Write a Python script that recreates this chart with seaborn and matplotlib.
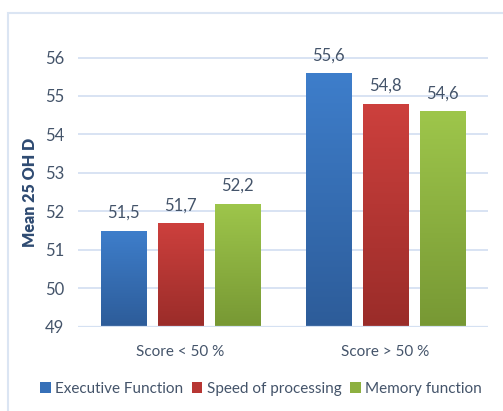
import numpy as np
import pandas as pd
import matplotlib
matplotlib.use("Agg")
import matplotlib.pyplot as plt
from matplotlib.colors import LinearSegmentedColormap
from matplotlib.patches import Rectangle, Patch
import seaborn as sns

# Data
groups = ["Score < 50 %", "Score > 50 %"]
domains = ["Executive Function", "Speed of processing", "Memory function"]
executive = [51.5, 55.6]
speed = [51.7, 54.8]
memory = [52.2, 54.6]

# Gradient ends (top, bottom) for each domain
top_colors = ["#3e7ecb", "#cd403d", "#9ec64b"]
bottom_colors = ["#2d5c99", "#9a2c29", "#779834"]
mid_colors = ["#3670b8", "#b73633", "#8db040"]

text_color = "#44546a"
grid_color = "#d5e1f2"

df = pd.DataFrame({
    "group": groups * 3,
    "domain": [domains[0]] * 2 + [domains[1]] * 2 + [domains[2]] * 2,
    "value": executive + speed + memory,
})

sns.set_theme(style="white")
plt.rcParams["font.family"] = ["Lato", "DejaVu Sans"]

fig = plt.figure(figsize=(5.03, 4.11), dpi=100)
fig.patch.set_facecolor("white")

# Chart frame
fig.patches.append(Rectangle((8 / 503, -0.1), 1.2, 1 - 13 / 411 + 0.1,
                             transform=fig.transFigure, fill=False,
                             edgecolor="#dbe5f3", linewidth=1.5))

ax = fig.add_axes([78 / 503, 1 - 326.7 / 411, 410 / 503, (326.7 - 57.5) / 411])

sns.barplot(data=df, x="group", y="value", hue="domain", order=groups,
            hue_order=domains, palette=mid_colors, width=0.834, gap=0.2,
            ax=ax, legend=False, saturation=1, zorder=3)

ax.set_ylim(49, 56)
ax.set_yticks(range(49, 57))
ax.grid(axis="y", color=grid_color, linewidth=1.3, zorder=0)
ax.grid(axis="x", visible=False)
for s in ax.spines.values():
    s.set_visible(False)
ax.axhline(49, color=grid_color, linewidth=1.6, zorder=4)

ax.tick_params(axis="y", length=0, pad=10, labelsize=12, labelcolor=text_color)
ax.tick_params(axis="x", length=0, pad=13, labelsize=11, labelcolor=text_color)
ax.set_xlabel("")
ax.set_ylabel("Mean 25 OH D", fontsize=11.5, fontweight="heavy",
              color="#2f4b72", labelpad=5)

# Vertical gradient fills clipped to each bar
grad = np.linspace(1, 0, 256).reshape(-1, 1)
n_groups = len(groups)
for i, patch in enumerate(ax.patches):
    if patch.get_height() == 0:
        continue
    k = i // n_groups
    cmap = LinearSegmentedColormap.from_list("g", [bottom_colors[k], top_colors[k]])
    x0, y0 = patch.get_x(), 49
    x1, y1 = patch.get_x() + patch.get_width(), patch.get_y() + patch.get_height()
    im = ax.imshow(grad, extent=[x0, x1, y0, y1], aspect="auto", cmap=cmap,
                   origin="upper", zorder=3.5, interpolation="bicubic")
    im.set_clip_path(patch)
    patch.set_edgecolor("none")

ax.set_xlim(-0.5, 1.5)
ax.set_ylim(49, 56)

# Value labels with decimal comma
for container in ax.containers:
    labels = [f"{v:.1f}".replace(".", ",") for v in container.datavalues]
    ax.bar_label(container, labels=labels, padding=7, fontsize=12,
                 color=text_color, clip_on=False)

handles = [Patch(facecolor=c, edgecolor="none") for c in mid_colors]
fig.legend(handles, domains, loc="center", bbox_to_anchor=(261 / 503, 1 - 389 / 411),
           ncol=3, frameon=False, fontsize=11, handlelength=0.7,
           handleheight=0.7, handletextpad=0.3, columnspacing=0.55,
           labelcolor=text_color, borderaxespad=0, borderpad=0)

fig.savefig("out.png", dpi=100, facecolor="white")
